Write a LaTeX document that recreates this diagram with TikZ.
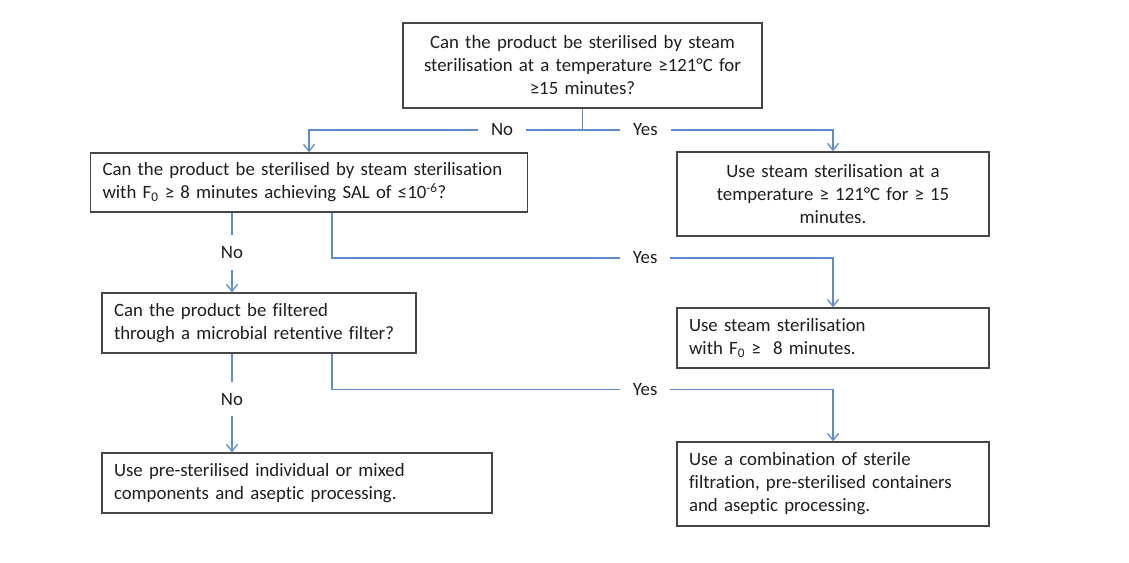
\documentclass[tikz,border=0pt]{standalone}
\usepackage{fontspec}
\setmainfont{Carlito}[Ligatures=NoCommon]
\usetikzlibrary{arrows.meta}
\definecolor{conncol}{RGB}{95,140,205}
\definecolor{boxcol}{RGB}{70,70,70}
\definecolor{txtcol}{RGB}{30,30,30}
\begin{document}
\begin{tikzpicture}[x=1pt,y=-1pt,
  every node/.style={font=\fontsize{18.8}{23}\selectfont, text=txtcol},
  qbox/.style={draw=boxcol, line width=1.3pt, inner xsep=12pt, inner ysep=0pt, fill=white},
  conn/.style={draw=conncol, line width=1.3pt},
  arr/.style={conn, -{Straight Barb[length=7pt,width=11pt]}},
  lab/.style={fill=white, inner xsep=13pt, inner ysep=2pt},
  vlab/.style={fill=white, inner xsep=2pt, inner ysep=11pt}]
\useasboundingbox[fill=white] (0,0) rectangle (1129,562);

\node[qbox, text width=335pt, minimum height=85pt, align=center] (top) at (582.5,65.5)
  {Can the product be sterilised by steam\\ sterilisation at a temperature ≥121°C for\\ ≥15 minutes?};
\node[qbox, text width=413pt, minimum height=59pt, align=left] (q1) at (309,182.5)
  {Can the product be sterilised by steam sterilisation\\ with F\textsubscript{0} ≥ 8 minutes achieving SAL of ≤10\textsuperscript{-6}?};
\node[qbox, text width=288pt, minimum height=84pt, align=center] (r1) at (833,194)
  {Use steam sterilisation at a\\ temperature ≥ 121°C for ≥ 15\\ minutes.};
\node[qbox, text width=290pt, minimum height=60pt, align=left] (q2) at (259,323)
  {Can the product be filtered\\ through a microbial retentive filter?};
\node[qbox, text width=288pt, minimum height=60pt, align=left] (r2) at (833,338)
  {Use steam sterilisation\\ with F\textsubscript{0} ≥~ 8 minutes.};
\node[qbox, text width=366pt, minimum height=60pt, align=left] (q3) at (297,483)
  {Use pre-sterilised individual or mixed\\ components and aseptic processing.};
\node[qbox, text width=288pt, minimum height=84pt, align=left] (r3) at (833,484)
  {Use a combination of sterile\\ filtration, pre-sterilised containers\\ and aseptic processing.};

\coordinate (rowT) at (0,130);
\coordinate (j0) at (top.south |- rowT);
\coordinate (colL) at (232,0);
\coordinate (colM) at (332,0);
\coordinate (rowA) at (0,258);
\coordinate (rowB) at (0,389.5);

\draw[conn] (top.south) -- (j0);
\draw[arr] (j0) -- node[lab, pos=0.294]{No} (j0 -| q1.north) -- (q1.north);
\draw[arr] (j0) -- node[lab, pos=0.251]{Yes} (j0 -| r1.north) -- (r1.north);

\draw[arr] (q1.south -| colL) -- node[vlab]{No} (q2.north -| colL);
\draw[arr] (q1.south -| colM) -- (colM |- rowA) -- node[lab, pos=0.625]{Yes} (rowA -| r2.north) -- (r2.north);

\draw[arr] (q2.south -| colL) -- node[vlab, pos=0.46]{No} (q3.north -| colL);
\draw[arr] (q2.south -| colM) -- (colM |- rowB) -- node[lab, pos=0.625]{Yes} (rowB -| r3.north) -- (r3.north);
\end{tikzpicture}
\end{document}
